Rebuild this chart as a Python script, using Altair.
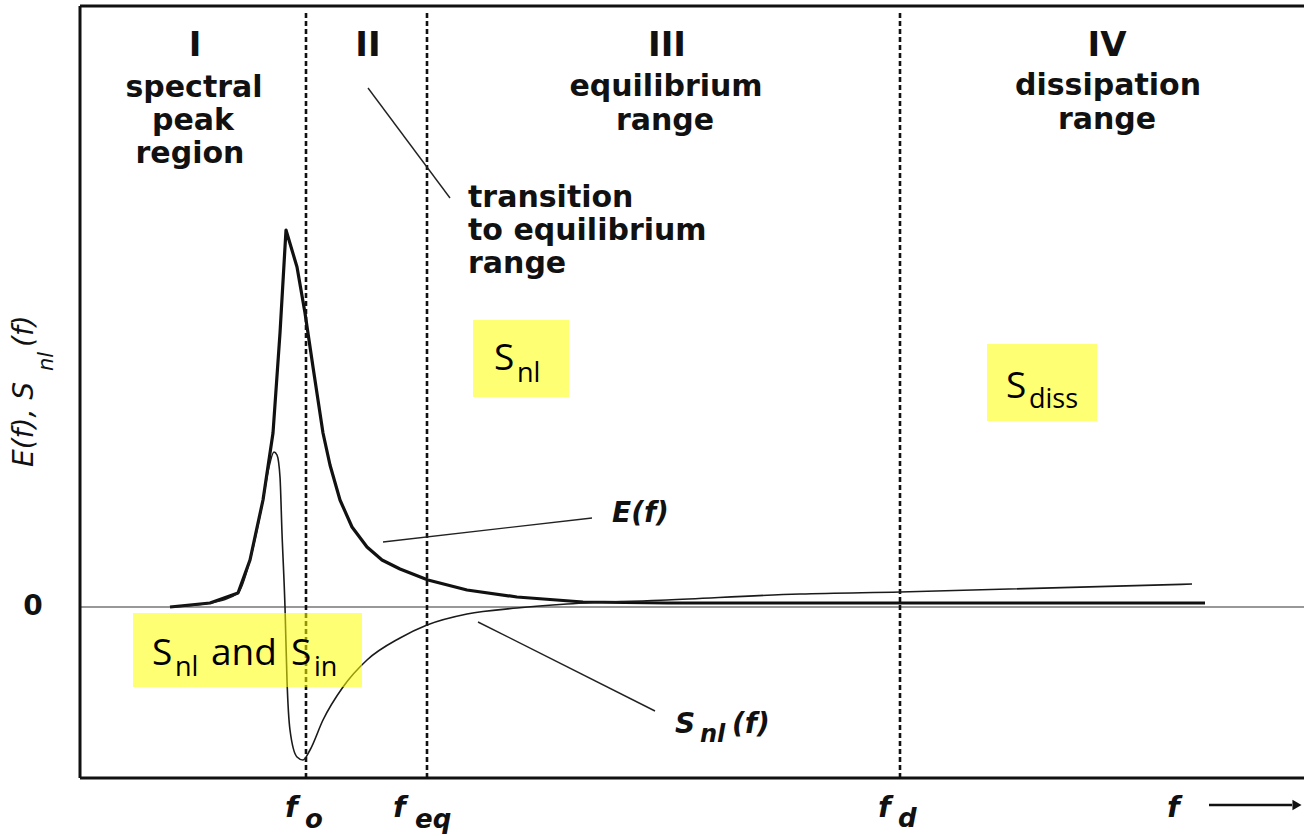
import altair as alt
import pandas as pd

# ---------------- data (x: frequency units, y: amplitude units) ----------------
E_x = [0.90, 1.30, 1.58, 1.70, 1.83, 1.93, 2.00, 2.06, 2.17, 2.25, 2.33, 2.43, 2.50,
       2.60, 2.72, 2.87, 3.02, 3.20, 3.48, 3.87, 4.37, 5.03, 5.87, 7.70, 11.25]
E_y = [0.00, 0.04, 0.14, 0.47, 1.07, 1.74, 2.74, 3.77, 3.40, 2.94, 2.40, 1.74, 1.42,
       1.07, 0.80, 0.60, 0.47, 0.38, 0.27, 0.17, 0.10, 0.05, 0.04, 0.04, 0.04]

S_x = [0.90, 1.30, 1.58, 1.70, 1.83, 1.89, 1.94, 1.97, 2.00, 2.02, 2.05, 2.07, 2.10,
       2.17, 2.23, 2.30, 2.43, 2.63, 2.87, 3.20, 3.47, 3.87, 4.37, 4.87, 5.87, 7.20,
       8.20, 11.12]
S_y = [0.00, 0.04, 0.14, 0.47, 1.07, 1.40, 1.55, 1.52, 1.30, 0.74, 0.00, -0.73, -1.23,
       -1.50, -1.53, -1.43, -1.13, -0.80, -0.53, -0.31, -0.18, -0.07, -0.01, 0.03, 0.07,
       0.13, 0.15, 0.23]

freq_marks = [2.26, 3.47, 8.20]          # f_o, f_eq, f_d

X_MIN, X_MAX = 0.0, 12.24
Y_MIN, Y_MAX = -1.71, 6.01

# annotation texts
roman_text = ["I", "II", "III", "IV"]
roman_x = [1.15, 2.88, 5.87, 10.27]
roman_y = [5.51, 5.51, 5.51, 5.51]

region_text = ["spectral", "peak", "region", "equilibrium", "range", "dissipation", "range"]
region_x = [1.14, 1.13, 1.10, 5.86, 5.85, 10.28, 10.27]
region_y = [5.10, 4.77, 4.44, 5.11, 4.77, 5.12, 4.78]

trans_text = ["transition", "to equilibrium", "range"]
trans_x = [3.88, 3.88, 3.88]
trans_y = [4.00, 3.67, 3.34]

leader_x = [2.88, 3.03, 3.98]
leader_y = [5.19, 0.65, -0.15]
leader_x2 = [3.70, 5.12, 5.75]
leader_y2 = [4.09, 0.89, -1.04]

box_x = [3.93, 0.53, 9.07]
box_x2 = [4.89, 2.82, 10.17]
box_y = [2.87, -0.06, 2.63]
box_y2 = [2.10, -0.80, 1.86]

box_main_text = ["S", "S", "and", "S", "S"]
box_main_x = [4.14, 0.72, 1.31, 2.11, 9.26]
box_main_y = [2.37, -0.58, -0.58, -0.58, 2.09]
box_sub_text = ["nl", "nl", "in", "diss"]
box_sub_x = [4.37, 0.95, 2.34, 9.49]
box_sub_y = [2.25, -0.69, -0.69, 1.99]

curve_lab_text = ["E(f)", "S", "(f)"]
curve_lab_x = [5.32, 5.95, 6.52]
curve_lab_y = [0.85, -1.26, -1.26]
curve_sub_text = ["nl"]
curve_sub_x = [6.20]
curve_sub_y = [-1.35]

flab_text = ["f", "f", "f", "f"]
flab_x = [2.05, 3.13, 7.98, 10.87]
flab_y = [-2.10, -2.10, -2.10, -2.10]
fsub_text = ["o", "eq", "d"]
fsub_x = [2.25, 3.35, 8.18]
fsub_y = [-2.21, -2.21, -2.20]

arrow_x, arrow_x2, arrow_y = 11.29, 12.12, -1.98
arrow_head_x = 12.17

zero_text = ["0"]
zero_x = [-0.47]
zero_y = [0.0]

ytitle_text = ["E(f), S", "(f)"]
ytitle_x = [-0.47, -0.47]
ytitle_y = [1.40, 2.60]
ytitle_sub_text = ["nl"]
ytitle_sub_x = [-0.27]
ytitle_sub_y = [2.36]

# ---------------- scales ----------------
xs = alt.Scale(domain=[X_MIN, X_MAX], nice=False, zero=False)
ys = alt.Scale(domain=[Y_MIN, Y_MAX], nice=False, zero=False)


def X(f="x"):
    return alt.X(f"{f}:Q", scale=xs, axis=None)


def Y(f="y"):
    return alt.Y(f"{f}:Q", scale=ys, axis=None)


def text_layer(t, x, y, **kw):
    df = pd.DataFrame({"x": x, "y": y, "t": t})
    return alt.Chart(df).mark_text(**kw).encode(x=X(), y=Y(), text="t:N")


INK = "#111111"

# frame
frame_df = pd.DataFrame({
    "x": [X_MIN, X_MIN, X_MIN], "x2": [X_MIN, X_MAX, X_MAX],
    "y": [Y_MIN, Y_MAX, Y_MIN], "y2": [Y_MAX, Y_MAX, Y_MIN],
})
frame = alt.Chart(frame_df).mark_rule(color=INK, strokeWidth=3).encode(
    x=X(), x2="x2:Q", y=Y(), y2="y2:Q")

zero_line = alt.Chart(pd.DataFrame({"x": [X_MIN], "x2": [X_MAX], "y": [0.0]})).mark_rule(
    color="#333333", strokeWidth=1.2).encode(x=X(), x2="x2:Q", y=Y())

dashes = alt.Chart(pd.DataFrame({"x": freq_marks, "y": [Y_MIN] * 3, "y2": [5.97] * 3})).mark_rule(
    color=INK, strokeWidth=2.6, strokeDash=[5, 3]).encode(x=X(), y=Y(), y2="y2:Q")

leaders = alt.Chart(pd.DataFrame({"x": leader_x, "y": leader_y, "x2": leader_x2, "y2": leader_y2})).mark_rule(
    color="#222222", strokeWidth=1.4).encode(x=X(), y=Y(), x2="x2:Q", y2="y2:Q")

e_line = alt.Chart(pd.DataFrame({"x": E_x, "y": E_y, "o": range(len(E_x))})).mark_line(
    color=INK, strokeWidth=3.2, strokeJoin="round").encode(x=X(), y=Y(), order="o:Q")

s_line = alt.Chart(pd.DataFrame({"x": S_x, "y": S_y, "o": range(len(S_x))})).mark_line(
    color="#1a1a1a", strokeWidth=1.6, interpolate="monotone").encode(x=X(), y=Y(), order="o:Q")

boxes = alt.Chart(pd.DataFrame({"x": box_x, "x2": box_x2, "y": box_y, "y2": box_y2})).mark_rect(
    color="#ffff00", opacity=0.55).encode(x=X(), x2="x2:Q", y=Y(), y2="y2:Q")

roman = text_layer(roman_text, roman_x, roman_y, font="DejaVu Sans", fontWeight="bold",
                   fontSize=34, align="center", baseline="alphabetic", color=INK)
regions = text_layer(region_text, region_x, region_y, font="DejaVu Sans", fontWeight="bold",
                     fontSize=30, align="center", baseline="alphabetic", color=INK)
trans = text_layer(trans_text, trans_x, trans_y, font="DejaVu Sans", fontWeight="bold",
                   fontSize=30, align="left", baseline="alphabetic", color=INK)

box_main = text_layer(box_main_text, box_main_x, box_main_y, font="Open Sans",
                      fontSize=37, align="left", baseline="alphabetic", color="#000000")
box_sub = text_layer(box_sub_text, box_sub_x, box_sub_y, font="Open Sans",
                     fontSize=27, align="left", baseline="alphabetic", color="#000000")

curve_lab = text_layer(curve_lab_text, curve_lab_x, curve_lab_y, font="DejaVu Sans",
                       fontWeight="bold", fontStyle="italic", fontSize=28, align="left",
                       baseline="alphabetic", color=INK)
curve_sub = text_layer(curve_sub_text, curve_sub_x, curve_sub_y, font="DejaVu Sans",
                       fontWeight="bold", fontStyle="italic", fontSize=24, align="left",
                       baseline="alphabetic", color=INK)

flab = text_layer(flab_text, flab_x, flab_y, font="DejaVu Sans", fontWeight="bold",
                  fontStyle="italic", fontSize=29, align="left", baseline="alphabetic", color=INK)
fsub = text_layer(fsub_text, fsub_x, fsub_y, font="DejaVu Sans", fontWeight="bold",
                  fontStyle="italic", fontSize=26, align="left", baseline="alphabetic", color=INK)

arrow = alt.Chart(pd.DataFrame({"x": [arrow_x], "x2": [arrow_x2], "y": [arrow_y]})).mark_rule(
    color=INK, strokeWidth=2.4).encode(x=X(), x2="x2:Q", y=Y())
arrow_head = alt.Chart(pd.DataFrame({"x": [arrow_head_x], "y": [arrow_y]})).mark_point(
    shape="triangle-right", filled=True, size=110, color=INK, opacity=1).encode(x=X(), y=Y())

zero_lab = text_layer(zero_text, zero_x, zero_y, font="DejaVu Sans", fontWeight="bold",
                      fontSize=28, align="center", baseline="middle", color=INK)

ytitle = text_layer(ytitle_text, ytitle_x, ytitle_y, font="DejaVu Sans", fontStyle="italic",
                    fontSize=28, align="left", baseline="alphabetic", angle=270, color=INK)
ytitle_sub = text_layer(ytitle_sub_text, ytitle_sub_x, ytitle_sub_y, font="DejaVu Sans",
                        fontStyle="italic", fontSize=21, align="left", baseline="alphabetic",
                        angle=270, color=INK)

chart = alt.layer(
    zero_line, dashes, leaders, e_line, s_line, frame, boxes,
    roman, regions, trans, box_main, box_sub, curve_lab, curve_sub,
    flab, fsub, arrow, arrow_head, zero_lab, ytitle, ytitle_sub,
).properties(
    width=1224, height=772,
    autosize=alt.AutoSizeParams(type="none"),
    padding={"left": 80, "top": 6, "right": 0, "bottom": 58},
    background="white",
).configure_view(stroke=None)

chart.save("out.html", embed_options={"renderer": "svg", "actions": False})
